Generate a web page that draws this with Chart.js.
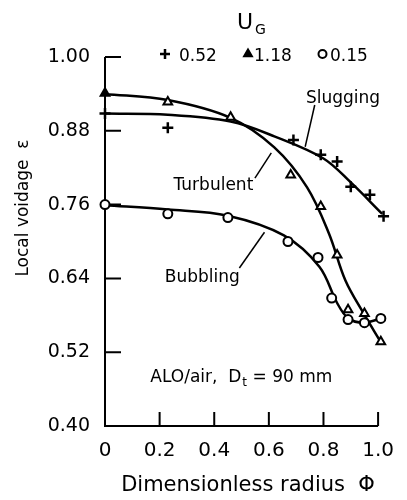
<!DOCTYPE html>
<html>
<head>
<meta charset="utf-8">
<script src="https://cdn.jsdelivr.net/npm/chart.js@4.4.1/dist/chart.umd.min.js"></script>
<style>
  html, body { margin: 0; padding: 0; background: #fff; }
  canvas { display: block; }
</style>
</head>
<body>
<canvas id="voidChart" width="407" height="500"></canvas>
<script>
// measured points, dimensionless radius (x) vs local voidage (y)
// U_G = 0.52 (slugging, crosses)
const slugX = [0, 0.23, 0.69, 0.79, 0.85, 0.90, 0.97, 1.02];
const slugY = [0.908, 0.885, 0.865, 0.841, 0.830, 0.789, 0.776, 0.741];
// U_G = 1.18 (turbulent, triangles)
const turbX = [0, 0.23, 0.46, 0.68, 0.79, 0.85, 0.89, 0.95, 1.01];
const turbY = [0.941, 0.927, 0.902, 0.808, 0.757, 0.678, 0.589, 0.583, 0.537];
// U_G = 0.15 (bubbling, circles)
const bubX = [0, 0.23, 0.45, 0.67, 0.78, 0.83, 0.89, 0.95, 1.01];
const bubY = [0.760, 0.745, 0.739, 0.700, 0.674, 0.608, 0.573, 0.568, 0.575];

// hand-drawn fit curves
const slugCurveX = [0, 0.23, 0.46, 0.62, 0.80, 0.90, 1.015];
const slugCurveY = [0.908, 0.906, 0.895, 0.871, 0.835, 0.796, 0.745];
const turbCurveX = [0, 0.23, 0.46, 0.62, 0.74, 0.82, 0.88, 0.947, 1.009];
const turbCurveY = [0.940, 0.930, 0.901, 0.853, 0.788, 0.713, 0.637, 0.583, 0.537];
const bubCurveX = [0, 0.23, 0.45, 0.655, 0.785, 0.85, 0.891, 0.947, 1.011];
const bubCurveY = [0.759, 0.752, 0.742, 0.710, 0.659, 0.600, 0.575, 0.568, 0.575];

const legendLabels = ['0.52', '1.18', '0.15'];
const xTicks = [0, 0.2, 0.4, 0.6, 0.8, 1.0];
const yTicks = [0.40, 0.52, 0.64, 0.76, 0.88, 1.00];

const FONT = '"DejaVu Sans", sans-serif';

function pts(xs, ys) {
    return xs.map((x, i) => ({ x: x, y: ys[i] }));
}

// labels on the plot, placed in data units
const notes = [
    { text: 'Slugging', x: 0.736, y: 0.925, from: [0.768, 0.922], to: [0.733, 0.854] },
    { text: 'Turbulent', x: 0.251, y: 0.784, from: [0.549, 0.803], to: [0.609, 0.844] },
    { text: 'Bubbling', x: 0.219, y: 0.634, from: [0.492, 0.657], to: [0.584, 0.715] }
];

function marker(ctx, style, r, x, y, fill) {
    if (Chart.helpers && Chart.helpers.drawPoint) {
        ctx.fillStyle = fill;
        Chart.helpers.drawPoint(ctx, { pointStyle: style, radius: r, borderWidth: ctx.lineWidth, rotation: 0 }, x, y);
    }
}

const paperPlugin = {
    id: 'paper',
    beforeDatasetsDraw(chart) {
        const { ctx, chartArea: a, scales: { x, y } } = chart;
        ctx.save();
        ctx.strokeStyle = '#000';
        ctx.lineWidth = 2;
        ctx.beginPath();
        ctx.moveTo(a.left, a.top);
        ctx.lineTo(a.left, a.bottom);
        ctx.lineTo(a.right, a.bottom);
        // inward ticks
        yTicks.slice(1).forEach(v => {
            const py = y.getPixelForValue(v);
            ctx.moveTo(a.left, py);
            ctx.lineTo(a.left + 16, py);
        });
        xTicks.slice(1).forEach(v => {
            const px = x.getPixelForValue(v);
            ctx.moveTo(px, a.bottom);
            ctx.lineTo(px, a.bottom - 14);
        });
        ctx.stroke();
        ctx.restore();
    },
    afterDraw(chart) {
        const { ctx, scales: { x, y } } = chart;
        ctx.save();
        ctx.fillStyle = '#000';
        ctx.strokeStyle = '#000';

        // annotations + leader lines
        ctx.font = '17px ' + FONT;
        ctx.textBaseline = 'alphabetic';
        ctx.textAlign = 'left';
        ctx.lineWidth = 1.5;
        notes.forEach(n => {
            ctx.fillText(n.text, x.getPixelForValue(n.x), y.getPixelForValue(n.y));
            ctx.beginPath();
            ctx.moveTo(x.getPixelForValue(n.from[0]), y.getPixelForValue(n.from[1]));
            ctx.lineTo(x.getPixelForValue(n.to[0]), y.getPixelForValue(n.to[1]));
            ctx.stroke();
        });

        // ALO/air, Dt = 90 mm
        let px = x.getPixelForValue(0.166);
        const py = y.getPixelForValue(0.4715);
        ctx.fillText('ALO/air,  D', px, py);
        px += ctx.measureText('ALO/air,  D').width;
        ctx.font = '12px ' + FONT;
        ctx.fillText('t', px + 1, py + 4);
        px += ctx.measureText('t').width + 1;
        ctx.font = '17px ' + FONT;
        ctx.fillText(' = 90 mm', px, py);

        // axis titles
        ctx.font = '21px ' + FONT;
        ctx.textAlign = 'center';
        ctx.textBaseline = 'middle';
        ctx.fillText('Dimensionless radius  \u03A6', 248, 486);
        ctx.save();
        ctx.translate(24, 208);
        ctx.rotate(-Math.PI / 2);
        ctx.font = '17px ' + FONT;
        ctx.fillText('Local voidage  \u03B5', 0, 0);
        ctx.restore();

        // legend
        ctx.textAlign = 'left';
        ctx.textBaseline = 'alphabetic';
        ctx.font = '22px ' + FONT;
        ctx.fillText('U', 237, 29);
        ctx.font = '14px ' + FONT;
        ctx.fillText('G', 255, 34);
        ctx.font = '17px ' + FONT;
        ctx.lineWidth = 2.5;
        marker(ctx, 'cross', 5, 165, 54, '#000');
        ctx.lineWidth = 2;
        marker(ctx, 'triangle', 4.5, 248, 54, '#000');
        marker(ctx, 'circle', 4, 322.5, 54, '#fff');
        ctx.fillStyle = '#000';
        ctx.fillText(legendLabels[0], 179, 61);
        ctx.fillText(legendLabels[1], 254, 61);
        ctx.fillText(legendLabels[2], 330, 61);
        ctx.restore();
    }
};

const ctx = document.getElementById('voidChart').getContext('2d');

const curve = {
    showLine: true,
    pointRadius: 0,
    borderColor: '#000',
    borderWidth: 2.5,
    tension: 0.35,
    clip: false
};

const chart = new Chart(ctx, {
    type: 'scatter',
    data: {
        datasets: [
            {
                label: legendLabels[0],
                data: pts(slugX, slugY),
                pointStyle: 'cross',
                pointRadius: 5.5,
                pointBorderWidth: 2.5,
                borderColor: '#000',
                backgroundColor: '#000',
                showLine: false,
                clip: false
            },
            {
                label: legendLabels[1],
                data: pts(turbX, turbY),
                pointStyle: 'triangle',
                pointRadius: 5,
                pointBorderWidth: 2,
                borderColor: '#000',
                pointBackgroundColor: c => c.dataIndex === 0 ? '#000' : '#fff',
                showLine: false,
                clip: false
            },
            {
                label: legendLabels[2],
                data: pts(bubX, bubY),
                pointStyle: 'circle',
                pointRadius: 4.5,
                pointBorderWidth: 2,
                borderColor: '#000',
                pointBackgroundColor: '#fff',
                showLine: false,
                clip: false
            },
            Object.assign({ label: 'Slugging', data: pts(slugCurveX, slugCurveY) }, curve),
            Object.assign({ label: 'Turbulent', data: pts(turbCurveX, turbCurveY) }, curve),
            Object.assign({ label: 'Bubbling', data: pts(bubCurveX, bubCurveY) }, curve)
        ]
    },
    options: {
        responsive: false,
        animation: false,
        layout: { padding: { left: 0, right: 19, top: 57, bottom: 0 } },
        plugins: { legend: { display: false }, tooltip: { enabled: false } },
        scales: {
            x: {
                type: 'linear',
                min: 0,
                max: 1,
                afterBuildTicks: s => { s.ticks = xTicks.map(v => ({ value: v })); },
                afterFit: s => { s.height = 74; },
                ticks: {
                    callback: v => v === 0 ? '0' : v.toFixed(1),
                    font: { family: FONT, size: 20 },
                    color: '#000',
                    padding: 13,
                    maxRotation: 0,
                    autoSkip: false
                },
                grid: { display: false, drawTicks: false },
                border: { display: false }
            },
            y: {
                type: 'linear',
                min: 0.4,
                max: 1.0,
                afterBuildTicks: s => { s.ticks = yTicks.map(v => ({ value: v })); },
                afterFit: s => { s.width = 105; },
                ticks: {
                    callback: v => v.toFixed(2),
                    font: { family: FONT, size: 19 },
                    color: '#000',
                    padding: 15,
                    autoSkip: false
                },
                grid: { display: false, drawTicks: false },
                border: { display: false }
            }
        }
    },
    plugins: [paperPlugin]
});
</script>
</body>
</html>
